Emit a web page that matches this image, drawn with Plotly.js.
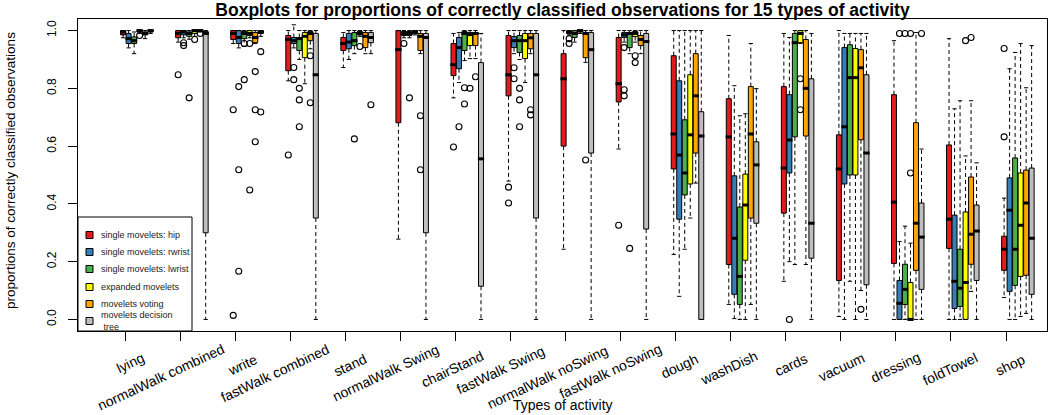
<!DOCTYPE html>
<html>
<head>
<meta charset="utf-8">
<script src="https://cdn.plot.ly/plotly-3.0.1.min.js"></script>
<style>html,body{margin:0;padding:0;background:#fff;}#chart{width:1050px;height:415px;}</style>
</head>
<body>
<div id="chart"></div>
<script>
// ---------------- data ----------------
const categories = ["lying","normalWalk combined","write","fastWalk combined","stand","normalWalk Swing","chairStand","fastWalk Swing","normalWalk noSwing","fastWalk noSwing","dough","washDish","cards","vacuum","dressing","foldTowel","shop"];
const seriesNames = ["single movelets: hip","single movelets: rwrist","single movelets: lwrist","expanded movelets","movelets voting","movelets decision<br> tree"];
const seriesColors = ["#E41A1C","#377EB8","#4DAF4A","#FFFF00","#FFA500","#BEBEBE"];

// hip
const hipLow  = [0.975,0.96,0.955,0.826,0.872,0.278,0.767,0.479,0.243,0.59,0.225,0.052,0.132,0.01,0,0,0.076];
const hipQ1   = [0.985,0.975,0.969,0.861,0.931,0.681,0.844,0.774,0.60,0.753,0.521,0.19,0.368,0.135,0.194,0.246,0.17];
const hipMed  = [0.995,0.99,0.99,0.969,0.955,0.934,0.882,0.847,0.833,0.816,0.642,0.632,0.524,0.521,0.406,0.347,0.243];
const hipQ3   = [1.0,1.0,1.0,0.983,0.976,1.0,0.955,0.983,0.92,0.976,0.913,0.764,0.806,0.639,0.778,0.604,0.288];
const hipHigh = [1.0,1.0,1.0,1.0,0.993,1.0,0.99,1.0,1.0,1.0,1.0,0.983,0.99,1.0,0.965,0.972,0.42];
const hipOut  = [[],[0.847],[0.726,0.014],[0.569],[],[],[0.597],[0.458,0.403],[],[0.326],[],[],[],[],[],[],[0.938,0.632]];

// rwrist
const rwLow  = [0.94,0.975,0.94,0.94,0.90,0.975,0.82,0.92,0.985,0.96,0.08,0.003,0.2,0,0,0,0];
const rwQ1   = [0.955,0.985,0.955,0.955,0.937,0.983,0.868,0.941,0.99,0.976,0.347,0.087,0.507,0.469,0,0.038,0.097];
const rwMed  = [0.972,0.995,0.976,0.965,0.96,0.99,0.941,0.965,0.995,0.985,0.569,0.281,0.621,0.667,0.056,0.132,0.378];
const rwQ3   = [0.99,1.0,1.0,0.976,0.99,0.997,0.976,0.979,0.997,0.993,0.826,0.497,0.778,0.941,0.135,0.361,0.49];
const rwHigh = [1.0,1.0,1.0,1.02,1.0,1.0,0.993,1.0,1.0,1.0,1.0,0.809,0.976,0.99,0.27,0.729,0.868];
const rwOut  = [[],[0.958,0.948],[0.806,0.518,0.167],[0.872,0.83],[],[0.955],[0.667],[0.871,0.833],[0.972,0.955],[0.941,0.795,0.774],[],[],[0.0],[],[0.99],[],[]];

// lwrist
const lwLow  = [0.92,0.97,0.945,0.90,0.92,0.975,0.896,0.90,0.96,0.92,0.243,0,0.19,0.132,0,0,0];
const lwQ1   = [0.955,0.98,0.972,0.931,0.948,0.983,0.931,0.924,0.976,0.941,0.431,0.052,0.632,0.50,0.052,0.045,0.118];
const lwMed  = [0.965,0.99,0.99,0.972,0.965,0.99,0.99,0.965,0.99,0.99,0.507,0.149,0.958,0.837,0.104,0.108,0.243];
const lwQ3   = [0.978,0.995,0.997,0.976,0.993,0.997,0.997,0.983,1.0,0.993,0.691,0.389,0.99,0.951,0.191,0.243,0.559];
const lwHigh = [0.995,1.0,1.0,1.0,1.0,1.0,1.0,1.0,1.0,1.0,1.0,0.705,1.0,0.99,0.323,0.757,0.924];
const lwOut  = [[],[0.767],[0.955,0.83],[0.80,0.76,0.667],[0.625],[0.767],[0.746,0.802],[0.80,0.76,0.667],[],[0.246],[],[],[],[],[0.99],[],[]];

// expanded
const exLow  = [0.99,0.98,0.975,0.816,0.98,0.985,0.903,0.82,0.99,0.96,0.351,0,0.955,0,0,0,0.01];
const exQ1   = [0.995,0.99,0.983,0.906,0.985,0.99,0.948,0.903,0.995,0.979,0.469,0.205,0.958,0.50,0,0,0.149];
const exMed  = [1.0,1.0,0.99,0.98,0.99,0.995,0.986,0.965,1.0,0.99,0.639,0.396,0.99,0.837,0,0.128,0.326];
const exQ3   = [1.0,1.0,1.0,0.993,0.997,1.0,0.993,0.99,1.0,0.997,0.847,0.503,1.0,0.938,0.128,0.372,0.507];
const exHigh = [1.0,1.0,1.0,1.0,1.0,1.0,1.0,1.0,1.0,1.0,1.0,0.712,1.0,0.99,0.264,0.566,0.955];
const exOut  = [[0.983],[0.969],[0.955,0.448],[],[0.945],[],[0.80],[],[],[0.913,0.889],[],[],[0.833,0.726],[],[0.99,0.507],[0.965],[]];

// voting
const voLow  = [0.972,0.995,0.955,0.937,0.92,0.92,0.903,0.92,0.89,0.92,0.472,0.052,0.19,0.10,0,0.097,0.021];
const voQ1   = [0.985,0.997,0.958,0.965,0.941,0.931,0.948,0.937,0.906,0.948,0.576,0.351,0.635,0.622,0.17,0.191,0.153];
const voMed  = [0.99,1.0,0.976,0.99,0.98,0.98,0.99,0.975,0.99,0.969,0.774,0.642,0.80,0.871,0.333,0.295,0.403];
const voQ3   = [0.995,1.0,0.993,0.997,0.993,0.99,0.993,0.99,0.993,0.983,0.92,0.806,0.969,0.934,0.681,0.493,0.517];
const voHigh = [1.0,1.0,1.0,1.0,1.0,1.0,1.0,1.0,1.0,1.0,1.0,0.955,1.0,0.99,0.993,0.757,0.802];
const voOut  = [[],[0.99],[0.858,0.726,0.615],[0.913,0.75],[],[0.705,0.518],[0.84],[0.726,0.708],[0.552],[],[],[],[],[0.035],[],[0.976],[]];

// decision tree
const dtLow  = [0.99,0,0.98,0,0.92,0,0,0,0,0,0,0,0,0,0,0,0];
const dtQ1   = [0.995,0.30,0.99,0.351,0.958,0.30,0.115,0.351,0.576,0.313,0,0.333,0.212,0.12,0.104,0.135,0.087];
const dtMed  = [1.0,0.99,0.995,0.847,0.976,0.976,0.556,0.847,0.934,0.962,0.635,0.535,0.333,0.576,0.285,0.306,0.281];
const dtQ3   = [1.0,0.997,1.0,0.99,0.993,0.99,0.889,0.99,0.993,0.99,0.719,0.615,0.833,0.847,0.403,0.396,0.524];
const dtHigh = [1.0,1.0,1.0,1.0,1.0,1.0,0.99,1.0,1.0,1.0,1.0,0.799,0.99,0.99,0.59,0.542,0.948];
const dtOut  = [[],[],[0.927,0.718],[],[0.743],[],[],[],[],[],[],[],[],[],[0.99],[],[]];

const yTickVals = [0,0.2,0.4,0.6,0.8,1.0];
const yTickText = ["0.0","0.2","0.4","0.6","0.8","1.0"];

// ---------------- build ----------------
const series = [
  {low:hipLow,q1:hipQ1,med:hipMed,q3:hipQ3,high:hipHigh,out:hipOut},
  {low:rwLow,q1:rwQ1,med:rwMed,q3:rwQ3,high:rwHigh,out:rwOut},
  {low:lwLow,q1:lwQ1,med:lwMed,q3:lwQ3,high:lwHigh,out:lwOut},
  {low:exLow,q1:exQ1,med:exMed,q3:exQ3,high:exHigh,out:exOut},
  {low:voLow,q1:voQ1,med:voMed,q3:voQ3,high:voHigh,out:voOut},
  {low:dtLow,q1:dtQ1,med:dtMed,q3:dtQ3,high:dtHigh,out:dtOut}
];

const FONT = "Liberation Sans, Arial, Helvetica, sans-serif";
const boxWidth = 0.09;
const offset = j => -0.035 + 0.1*j;

const boxTraces = [], whiskTraces = [], capTraces = [], medTraces = [], outTraces = [];
series.forEach((s, j) => {
  const xs = categories.map((c, i) => i + 1 + offset(j));
  boxTraces.push({
    type:'box', x:xs, q1:s.q1, median:s.med, q3:s.q3, lowerfence:s.q1, upperfence:s.q3,
    width:boxWidth, whiskerwidth:0, boxpoints:false, fillcolor:seriesColors[j],
    line:{color:'#000', width:1}, showlegend:false, hoverinfo:'skip'
  });
  const wx = [], wy = [], cx = [], cy = [];
  xs.forEach((x, i) => {
    wx.push(x, x, null, x, x, null);
    wy.push(s.q3[i], s.high[i], null, s.q1[i], s.low[i], null);
    cx.push(x, x); cy.push(s.high[i], s.low[i]);
  });
  whiskTraces.push({type:'scatter', mode:'lines', x:wx, y:wy, line:{color:'#000', width:1, dash:'4px,3px'}, showlegend:false, hoverinfo:'skip'});
  capTraces.push({type:'scatter', mode:'markers', x:cx, y:cy, marker:{symbol:'line-ew', size:3, line:{color:'#000', width:1}}, showlegend:false, hoverinfo:'skip'});
  medTraces.push({type:'scatter', mode:'markers', x:xs, y:s.med, marker:{symbol:'line-ew', size:4.5, line:{color:'#000', width:3}}, showlegend:false, hoverinfo:'skip'});
  const ox = [], oy = [];
  s.out.forEach((arr, i) => arr.forEach(v => { ox.push(xs[i]); oy.push(v); }));
  outTraces.push({type:'scatter', mode:'markers', x:ox, y:oy, marker:{symbol:'circle-open', size:6, color:'#000', line:{color:'#000', width:1.1}}, showlegend:false, hoverinfo:'skip'});
});

// layout helpers (pixel -> paper)
const L = 78, R = 3, T = 19, B = 84, W = 1050 - L - R, H = 415 - T - B;
const pxX = px => (px - L) / W;
const pxY = py => (415 - B - py) / H;

// x tick label placement (center shift px, center y px)
const labelShift = [5,-19,7,-15,5,-15,-3,-10,-18,-10,4,-2,5,1,0,-1,4];
const labelY     = [363,377,365,373,365,373,369,370,377,371,366,368,365,367,367,369,365];

const annotations = categories.map((c, i) => ({
  text:c, x:i+1, xref:'x', xshift:labelShift[i], y:pxY(labelY[i]), yref:'paper',
  textangle:-25, xanchor:'center', yanchor:'middle', showarrow:false,
  font:{family:FONT, size:14, color:'#000'}
}));
annotations.push({text:'Types of activity', x:0.5, xref:'paper', y:pxY(405), yref:'paper', xanchor:'center', yanchor:'middle', showarrow:false, font:{family:FONT, size:14, color:'#000'}});
annotations.push({text:'proportions of correctly classified observations', x:pxX(10), xref:'paper', y:pxY(171), yref:'paper', textangle:-90, xanchor:'center', yanchor:'middle', showarrow:false, font:{family:FONT, size:13.5, color:'#000'}});

// custom legend
const legRows = [235,252,269,287,304,321];
const shapes = [{type:'rect', xref:'paper', yref:'paper', x0:0, x1:pxX(192), y0:0, y1:pxY(217), line:{color:'#000', width:1}, fillcolor:'#fff', layer:'above'}];
seriesNames.forEach((n, j) => {
  shapes.push({type:'rect', xref:'paper', yref:'paper', x0:pxX(86), x1:pxX(93), y0:pxY(legRows[j]+3.5), y1:pxY(legRows[j]-3.5), line:{color:'#000', width:1}, fillcolor:seriesColors[j], layer:'above'});
  annotations.push({text:n, x:pxX(99), xref:'paper', y:pxY(legRows[j]), yref:'paper', xanchor:'left', yanchor:'middle', align:'left', showarrow:false, font:{family:FONT, size:9, color:'#222'}});
});

const layout = {
  width:1050, height:415,
  margin:{l:L, r:R, t:T, b:B},
  paper_bgcolor:'#fff', plot_bgcolor:'#fff',
  showlegend:false, boxmode:'overlay',
  title:{text:'Boxplots for proportions of correctly classified observations for 15 types of activity', x:0.5, xref:'paper', xanchor:'center', y:1-10/415, yref:'container', yanchor:'middle', font:{family:FONT, size:17.5, weight:'bold', color:'#000'}},
  xaxis:{type:'linear', range:[0.146,17.744], tickvals:categories.map((c,i)=>i+1), showticklabels:false, ticks:'outside', ticklen:9, tickcolor:'#000', showline:true, mirror:true, linecolor:'#000', linewidth:1, showgrid:false, zeroline:false},
  yaxis:{range:[-0.04,1.04], tickvals:yTickVals, ticktext:yTickText, tickangle:-90, ticks:'outside', ticklen:9, tickcolor:'#000', ticklabelstandoff:7, tickfont:{family:FONT, size:12, color:'#000'}, showline:true, mirror:true, linecolor:'#000', linewidth:1, showgrid:false, zeroline:false},
  annotations:annotations, shapes:shapes
};

Plotly.newPlot('chart', [...boxTraces, ...whiskTraces, ...capTraces, ...medTraces, ...outTraces], layout, {staticPlot:true});
</script>
</body>
</html>
